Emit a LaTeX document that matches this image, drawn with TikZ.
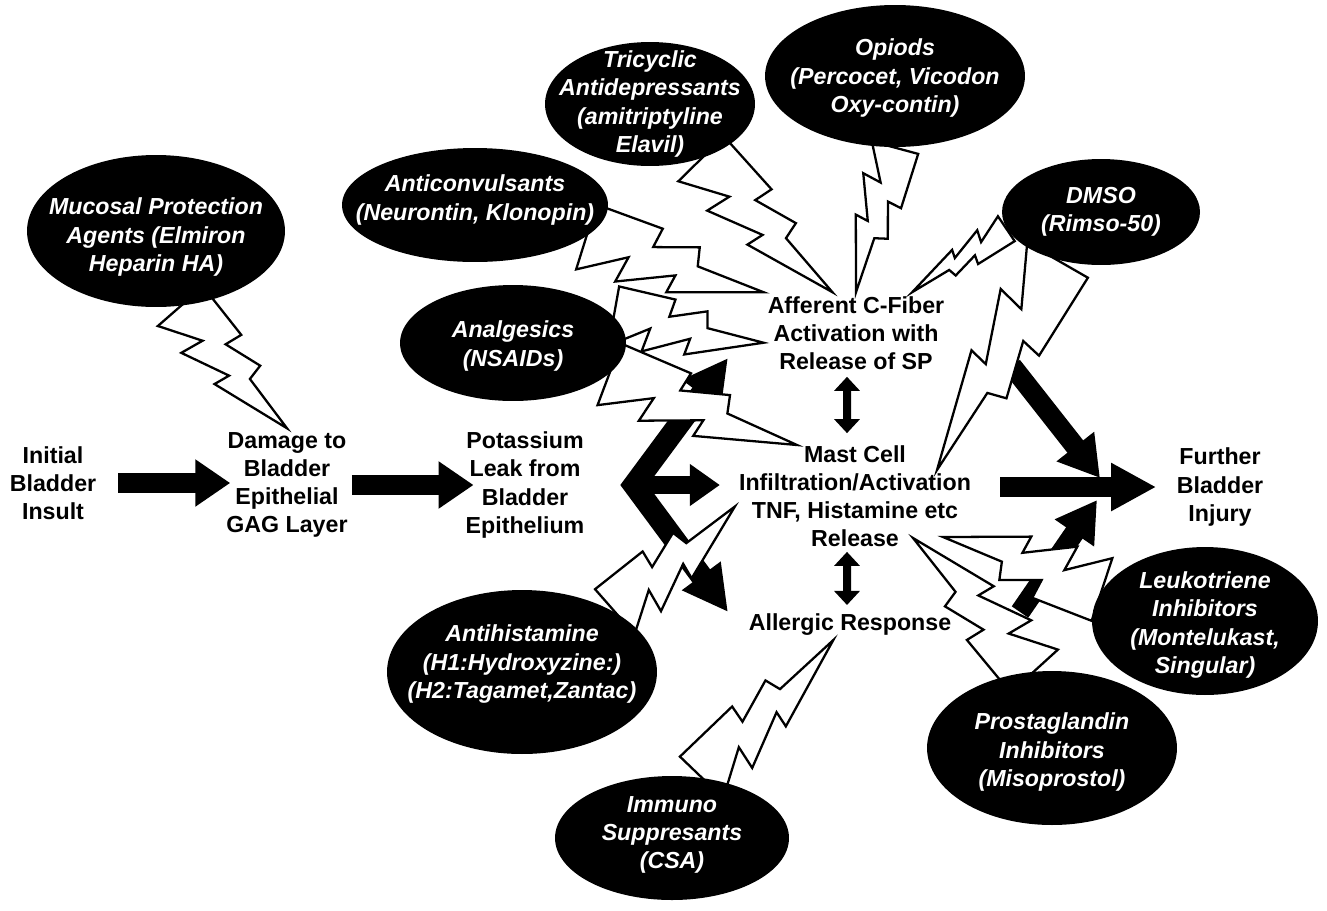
\documentclass[tikz,border=0pt]{standalone}
\usepackage{fontspec}
\setmainfont{Liberation Sans}
\usetikzlibrary{arrows.meta,shapes.geometric,calc,positioning}
\tikzset{every picture/.style={line width=0.75pt}}

\pgfdeclarelayer{arrowlayer}
\pgfdeclarelayer{boltlayer}
\pgfsetlayers{arrowlayer,boltlayer,main}

\tikzset{
  stage/.style={align=center,inner sep=2pt,font=\fontsize{13.2}{16}\selectfont\bfseries},
  drug/.style={ellipse,fill=black,inner sep=0pt},
  drugtext/.style={text=white,align=center,font=\fontsize{13.2}{16}\selectfont\bfseries\itshape},
  boltline/.style={fill=white,draw=black,line width=1.3pt,line join=miter},
  bigarrow/.style={line width=0.4cm,-{Triangle[length=0.7cm,width=0.9cm]}},
  dblarrow/.style={line width=0.16cm,{Triangle[length=0.28cm,width=0.5cm]}-{Triangle[length=0.28cm,width=0.5cm]}}
}

% lightning bolt: base, tip, half width (px), side (1 or -1)
\newcommand{\bolt}[4]{%
  \filldraw[boltline]
    ($(#1)!{1.00*(#4)*#3*0.02cm}!90:(#2)$) --
    ($(#1)!0.25!(#2)!{0.20*(#4)*#3*0.02cm}!90:(#2)$) --
    ($(#1)!0.22!(#2)!{1.00*(#4)*#3*0.02cm}!90:(#2)$) --
    ($(#1)!0.52!(#2)!{0.30*(#4)*#3*0.02cm}!90:(#2)$) --
    ($(#1)!0.50!(#2)!{0.85*(#4)*#3*0.02cm}!90:(#2)$) --
    (#2) --
    ($(#1)!0.62!(#2)!{-0.15*(#4)*#3*0.02cm}!90:(#2)$) --
    ($(#1)!0.60!(#2)!{-0.70*(#4)*#3*0.02cm}!90:(#2)$) --
    ($(#1)!0.36!(#2)!{-0.30*(#4)*#3*0.02cm}!90:(#2)$) --
    ($(#1)!0.38!(#2)!{-0.90*(#4)*#3*0.02cm}!90:(#2)$) --
    ($(#1)!{-1.00*(#4)*#3*0.02cm}!90:(#2)$) -- cycle;
}

\begin{document}
\begin{tikzpicture}[x=0.02cm,y=-0.02cm]
    \useasboundingbox (0,0) rectangle (1327,910);

    % Stages of the cascade
    \node[stage] (init) at (53,483) {Initial\\Bladder\\Insult};
    \node[stage] (damage) at (287,485) {Damage to\\Bladder\\Epithelial\\GAG Layer};
    \node[stage] (potas) at (525,485) {Potassium\\Leak from\\Bladder\\Epithelium};
    \node[stage] (afferent) at (856,333) {Afferent C-Fiber\\Activation with\\Release of SP};
    \node[stage] (mast) at (855,496) {Mast Cell\\Infiltration/Activation\\TNF, Histamine etc\\Release};
    \node[stage] (allergic) at (850,625) {Allergic Response};
    \node[stage] (further) at (1220,487) {Further\\Bladder\\Injury};

    % Drug ellipses
    \node[drug,minimum width=5.16cm,minimum height=3.04cm] (muc) at (156,231) {};
    \node[drugtext] (mucT) at (156,237) {Mucosal Protection\\Agents (Elmiron\\Heparin HA)};
    \node[drug,minimum width=5.32cm,minimum height=2.28cm] (anticonv) at (475,205) {};
    \node[drugtext] (anticonvT) at (475,200) {Anticonvulsants\\(Neurontin, Klonopin)};
    \node[drug,minimum width=4.2cm,minimum height=2.48cm] (tricyc) at (650,104) {};
    \node[drugtext] (tricycT) at (650,104) {Tricyclic\\Antidepressants\\(amitriptyline\\Elavil)};
    \node[drug,minimum width=5.2cm,minimum height=2.84cm] (opiod) at (895,76) {};
    \node[drugtext] (opiodT) at (895,78) {Opiods\\(Percocet, Vicodon\\Oxy-contin)};
    \node[drug,minimum width=3.96cm,minimum height=2.12cm] (dmso) at (1101,212) {};
    \node[drugtext] (dmsoT) at (1101,212) {DMSO\\(Rimso-50)};
    \node[drug,minimum width=4.52cm,minimum height=2.32cm] (analg) at (513,343) {};
    \node[drugtext] (analgT) at (513,346) {Analgesics\\(NSAIDs)};
    \node[drug,minimum width=5.4cm,minimum height=3.28cm] (antihist) at (522,672) {};
    \node[drugtext] (antihistT) at (522,664) {Antihistamine\\(H1:Hydroxyzine:)\\(H2:Tagamet,Zantac)};
    \node[drug,minimum width=4.68cm,minimum height=2.48cm] (immuno) at (672,838) {};
    \node[drugtext] (immunoT) at (672,835) {Immuno\\Suppresants\\(CSA)};
    \node[drug,minimum width=5.0cm,minimum height=3.08cm] (prosta) at (1052,748) {};
    \node[drugtext] (prostaT) at (1052,752) {Prostaglandin\\Inhibitors\\(Misoprostol)};
    \node[drug,minimum width=4.52cm,minimum height=2.96cm] (leuko) at (1205,621) {};
    \node[drugtext] (leukoT) at (1205,625) {Leukotriene\\Inhibitors\\(Montelukast,\\Singular)};

    % free ends
    \coordinate (fork) at (634,485);
    \coordinate (upTip) at (728,358);
    \coordinate (dnTip) at (728,612);
    \coordinate (fibOut) at (1012,366);
    \coordinate (algOut) at (1020,612);
    \coordinate (joinUp) at (1100,478);
    \coordinate (joinDn) at (1097,500);
    \coordinate (mcRight) at (937,470);
    \coordinate (mcLeft) at (797,445);
    \coordinate (mcLow) at (913,538);
    \coordinate (mcLow2) at (943,537);

    % Thick arrows
    \begin{pgfonlayer}{arrowlayer}
    \draw[bigarrow,shorten <=0.36cm,shorten >=-0.16cm] (init.east) -- (init.east -| damage.west);
    \draw[bigarrow,shorten >=-0.24cm] (damage.east) -- (damage.east -| potas.west);
    \draw[line width=0.44cm,line join=miter,{Triangle[length=0.9cm,width=0.9cm]}-{Triangle[length=0.9cm,width=0.9cm]}] (upTip) -- (fork) -- (dnTip);
    \draw[line width=0.36cm,-{Triangle[length=0.6cm,width=0.8cm]},shorten >=0.3cm] (fork) -- (fork -| mast.west);
    \draw[bigarrow,-{Triangle[length=0.9cm,width=0.9cm]},shorten <=0.5cm,shorten >=0.33cm] (mast.east |- further) -- (further.west);
    \draw[bigarrow,-{Triangle[length=0.8cm,width=0.9cm]}] (fibOut) -- (joinUp);
    \draw[bigarrow,-{Triangle[length=0.8cm,width=0.9cm]}] (algOut) -- (joinDn);
    \draw[dblarrow,shorten <=0.06cm,shorten >=0.16cm] ([xshift=-0.18cm]afferent.south) -- ([xshift=-0.16cm]mast.north);
    \draw[dblarrow,shorten <=0.02cm,shorten >=0.1cm] ([xshift=-0.16cm]mast.south) -- ([xshift=-0.06cm]allergic.north);
    \end{pgfonlayer}

    % Lightning bolts from the drugs
    \begin{pgfonlayer}{boltlayer}
    \bolt{muc.-72}{damage.north}{30}{-1}
    \bolt{anticonv.-16}{afferent.north west}{34}{-1}
    \bolt{tricyc.-47}{afferent.120}{32}{-1}
    \bolt{opiod.south}{afferent.north}{24}{-1}
    \bolt{dmso.190}{afferent.36}{15}{-1}
    \bolt{dmso.-132}{mcRight}{35}{-1}
    \bolt{analg.15}{afferent.186}{30}{-1}
    \bolt{analg.-18}{mcLeft}{33}{-1}
    \bolt{antihist.33}{mast.185}{30}{-1}
    \bolt{immuno.64}{allergic.-138}{30}{-1}
    \bolt{prosta.103}{mcLow}{32}{-1}
    \bolt{leuko.163}{mcLow2}{33}{-1}
    \end{pgfonlayer}
\end{tikzpicture}
\end{document}
